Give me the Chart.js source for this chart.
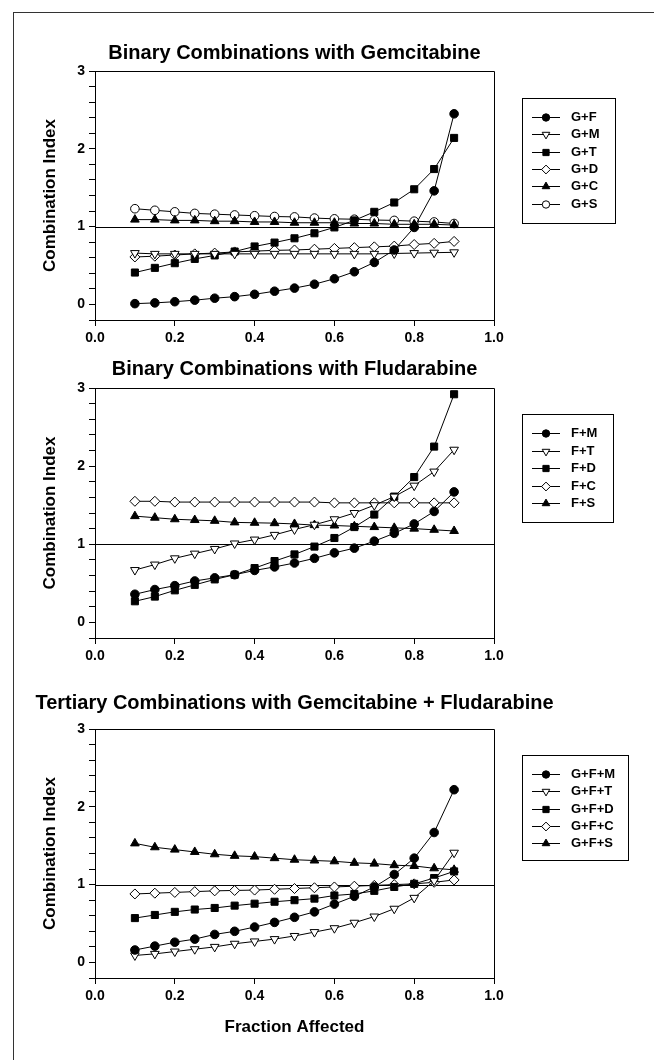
<!DOCTYPE html>
<html>
<head>
<meta charset="utf-8">
<title>Combination Index vs Fraction Affected</title>
<script src="https://cdn.jsdelivr.net/npm/chart.js"></script>
<style>
  html, body { margin: 0; padding: 0; background: #fff; }
  #page  { position: relative; width: 654px; height: 1060px; overflow: hidden; background: #fff; }
  #frame { position: absolute; left: 13px; top: 12px; width: 700px; height: 1100px;
           border-left: 1px solid #333; border-top: 1px solid #333; }
  canvas { position: absolute; left: 0; }
</style>
</head>
<body>
<div id="page">
  <div id="frame"></div>
  <canvas id="panelGem"  width="654" height="350" style="top:0px"></canvas>
  <canvas id="panelFlu"  width="654" height="325" style="top:345px"></canvas>
  <canvas id="panelTert" width="654" height="390" style="top:670px"></canvas>
</div>

<script>
/* =================================================================
   Combination index plots — three stacked panels
================================================================= */

// ── Data ──────────────────────────────────────

const fractionAffected = [0.10, 0.15, 0.20, 0.25, 0.30, 0.35, 0.40, 0.45, 0.50,
                          0.55, 0.60, 0.65, 0.70, 0.75, 0.80, 0.85, 0.90];
const xTickValues = [0.0, 0.2, 0.4, 0.6, 0.8, 1.0];
const yTickValues = [-0.2, 0, 0.2, 0.4, 0.6, 0.8, 1, 1.2, 1.4, 1.6, 1.8,
                     2, 2.2, 2.4, 2.6, 2.8, 3];

// Binary combinations with gemcitabine
const gemLabels = ['G+F', 'G+M', 'G+T', 'G+D', 'G+C', 'G+S'];
const ciGF = [0.01, 0.02, 0.035, 0.055, 0.08, 0.10, 0.13, 0.17, 0.21, 0.26, 0.33, 0.42, 0.54, 0.70, 0.99, 1.46, 2.45];
const ciGM = [0.66, 0.65, 0.65, 0.65, 0.65, 0.65, 0.65, 0.65, 0.65, 0.65, 0.65, 0.65, 0.65, 0.655, 0.66, 0.665, 0.67];
const ciGT = [0.41, 0.47, 0.53, 0.585, 0.63, 0.68, 0.745, 0.795, 0.85, 0.915, 0.99, 1.08, 1.19, 1.31, 1.48, 1.74, 2.14];
const ciGD = [0.61, 0.62, 0.635, 0.65, 0.66, 0.675, 0.685, 0.695, 0.70, 0.71, 0.72, 0.73, 0.74, 0.75, 0.77, 0.785, 0.81];
const ciGC = [1.09, 1.09, 1.08, 1.08, 1.07, 1.07, 1.06, 1.06, 1.05, 1.05, 1.05, 1.04, 1.04, 1.03, 1.03, 1.03, 1.02];
const ciGS = [1.23, 1.21, 1.19, 1.17, 1.16, 1.15, 1.14, 1.13, 1.125, 1.11, 1.10, 1.095, 1.085, 1.08, 1.07, 1.06, 1.04];

// Binary combinations with fludarabine
const fluLabels = ['F+M', 'F+T', 'F+D', 'F+C', 'F+S'];
const ciFM = [0.36, 0.42, 0.47, 0.53, 0.57, 0.61, 0.665, 0.71, 0.76, 0.82, 0.89, 0.95, 1.04, 1.14, 1.26, 1.42, 1.67];
const ciFT = [0.67, 0.74, 0.82, 0.88, 0.94, 1.01, 1.06, 1.12, 1.19, 1.25, 1.32, 1.40, 1.50, 1.61, 1.75, 1.93, 2.21];
const ciFD = [0.27, 0.33, 0.41, 0.48, 0.55, 0.61, 0.695, 0.785, 0.87, 0.97, 1.08, 1.22, 1.38, 1.61, 1.86, 2.25, 2.92];
const ciFC = [1.55, 1.55, 1.54, 1.54, 1.54, 1.54, 1.54, 1.54, 1.54, 1.54, 1.53, 1.53, 1.53, 1.53, 1.53, 1.53, 1.53];
const ciFS = [1.36, 1.34, 1.32, 1.31, 1.30, 1.28, 1.275, 1.27, 1.26, 1.245, 1.24, 1.23, 1.22, 1.21, 1.20, 1.185, 1.17];

// Tertiary combinations with gemcitabine + fludarabine
const tertLabels = ['G+F+M', 'G+F+T', 'G+F+D', 'G+F+C', 'G+F+S'];
const ciGFM = [0.16, 0.21, 0.26, 0.30, 0.36, 0.40, 0.455, 0.515, 0.58, 0.65, 0.75, 0.85, 0.97, 1.13, 1.34, 1.67, 2.22];
const ciGFT = [0.09, 0.11, 0.14, 0.17, 0.20, 0.24, 0.27, 0.30, 0.34, 0.39, 0.44, 0.51, 0.59, 0.69, 0.83, 1.05, 1.41];
const ciGFD = [0.57, 0.61, 0.65, 0.68, 0.70, 0.73, 0.755, 0.78, 0.80, 0.82, 0.86, 0.88, 0.92, 0.97, 1.01, 1.085, 1.17];
const ciGFC = [0.88, 0.89, 0.90, 0.91, 0.92, 0.925, 0.93, 0.94, 0.95, 0.96, 0.97, 0.98, 0.99, 1.00, 1.01, 1.03, 1.06];
const ciGFS = [1.53, 1.48, 1.45, 1.42, 1.39, 1.37, 1.36, 1.34, 1.32, 1.31, 1.30, 1.28, 1.27, 1.25, 1.24, 1.21, 1.19];

// ── Styles ────────────────────────────────────

const FONT = "Arial, 'Liberation Sans', Helvetica, sans-serif";
Chart.defaults.font.family = FONT;
Chart.defaults.color = '#000';

// marker order used in every panel
const markerStyles = [
  { style: 'circle',   rotation: 0,   radius: 4.3, fill: '#000' }, // filled circle
  { style: 'triangle', rotation: 180, radius: 5,   fill: '#fff' }, // open down triangle
  { style: 'rect',     rotation: 0,   radius: 5,   fill: '#000' }, // filled square
  { style: 'rectRot',  rotation: 0,   radius: 5,   fill: '#fff' }, // open diamond
  { style: 'triangle', rotation: 0,   radius: 5,   fill: '#000' }, // filled up triangle
  { style: 'circle',   rotation: 0,   radius: 4.3, fill: '#fff' }, // open circle
];

// ── Decoration plugin: CI = 1 line, box, title, legend ──

const panelDecor = {
  id: 'panelDecor',
  beforeDatasetsDraw(chart) {
    const { ctx, chartArea: a, scales: { y } } = chart;
    const py = Math.round(y.getPixelForValue(1)) + 0.5;
    ctx.save();
    ctx.strokeStyle = '#000';
    ctx.lineWidth = 1;
    ctx.beginPath(); ctx.moveTo(a.left, py); ctx.lineTo(a.right, py); ctx.stroke();
    ctx.restore();
  },
  afterDraw(chart, args, opts) {
    const { ctx, chartArea: a } = chart;
    ctx.save();
    ctx.strokeStyle = '#000';
    ctx.lineWidth = 1;
    // top and right edge of the plot box
    ctx.beginPath();
    ctx.moveTo(a.left, a.top + 0.5); ctx.lineTo(a.right + 0.5, a.top + 0.5);
    ctx.lineTo(a.right + 0.5, a.bottom);
    ctx.stroke();

    // title
    ctx.fillStyle = '#000';
    ctx.font = `bold 20px ${FONT}`;
    ctx.textAlign = 'center';
    ctx.textBaseline = 'middle';
    ctx.fillText(opts.title, (a.left + a.right) / 2, opts.titleY);

    // legend box
    const lg = opts.legend;
    ctx.strokeRect(lg.x + 0.5, lg.y + 0.5, lg.w, lg.h);
    ctx.font = `bold 13px ${FONT}`;
    ctx.textAlign = 'left';
    chart.data.datasets.forEach((ds, i) => {
      const ry = Math.round(lg.row0 + i * lg.gap) + 0.5;
      const m = markerStyles[i];
      ctx.beginPath(); ctx.moveTo(lg.x + 10, ry); ctx.lineTo(lg.x + 38, ry); ctx.stroke();
      ctx.fillStyle = m.fill;
      Chart.helpers.drawPoint(ctx, {
        pointStyle: m.style, rotation: m.rotation, radius: m.radius - 0.6, borderWidth: 1,
      }, lg.x + 24, ry);
      ctx.fillStyle = '#000';
      ctx.fillText(ds.label, lg.x + 49, ry);
    });
    ctx.restore();
  },
};

// ── Panel builder ─────────────────────────────

function buildPanel(canvasId, labels, series, cfg) {
  const datasets = series.map((vals, i) => {
    const m = markerStyles[i];
    return {
      label: labels[i],
      data: fractionAffected.map((x, k) => ({ x, y: vals[k] })),
      borderColor: '#000',
      borderWidth: 1,
      pointStyle: m.style,
      pointRotation: m.rotation,
      pointRadius: m.radius,
      pointHoverRadius: m.radius,
      pointBackgroundColor: m.fill,
      pointBorderColor: '#000',
      pointBorderWidth: 1,
      tension: 0,
      clip: false,
    };
  });

  const tickFont = { family: FONT, size: 14, weight: 'bold' };

  return new Chart(document.getElementById(canvasId), {
    type: 'line',
    data: { datasets },
    plugins: [panelDecor],
    options: {
      responsive: false,
      animation: false,
      devicePixelRatio: 1,
      events: [],
      layout: { padding: { left: 30, right: 160, top: cfg.top, bottom: 0 } },
      plugins: {
        legend: { display: false },
        tooltip: { enabled: false },
        panelDecor: { title: cfg.title, titleY: cfg.titleY, legend: cfg.legend },
      },
      scales: {
        x: {
          type: 'linear',
          min: 0, max: 1,
          afterBuildTicks: (s) => { s.ticks = xTickValues.map((v) => ({ value: v })); },
          afterFit: (s) => { s.height = cfg.xHeight; },
          ticks: { font: tickFont, color: '#000', padding: 4, maxRotation: 0, autoSkip: false,
                   callback: (v) => Number(v).toFixed(1) },
          grid: { drawOnChartArea: false, drawTicks: true, tickLength: 6, color: '#000' },
          border: { display: true, color: '#000', width: 1 },
          title: {
            display: !!cfg.xTitle,
            text: cfg.xTitle || '',
            font: { family: FONT, size: 17, weight: 'bold' },
            color: '#000',
            padding: { top: 0, bottom: 22 },
          },
        },
        y: {
          type: 'linear',
          min: -0.2, max: 3,
          afterBuildTicks: (s) => { s.ticks = yTickValues.map((v) => ({ value: v })); },
          afterFit: (s) => { s.width = 65; },
          ticks: { font: tickFont, color: '#000', padding: 4, autoSkip: false,
                   callback: (v) => (Math.abs(v - Math.round(v)) < 1e-6 ? String(Math.round(v)) : '') },
          grid: { drawOnChartArea: false, drawTicks: true, tickLength: 6, color: '#000' },
          border: { display: true, color: '#000', width: 1 },
          title: {
            display: true,
            text: 'Combination Index',
            font: { family: FONT, size: 17, weight: 'bold' },
            color: '#000',
            padding: { top: 10, bottom: 0 },
          },
        },
      },
    },
  });
}

// ── Init ───────────────────────────────────────

buildPanel('panelGem', gemLabels, [ciGF, ciGM, ciGT, ciGD, ciGC, ciGS], {
  title: 'Binary Combinations with Gemcitabine', titleY: 53,
  top: 71, xHeight: 30,
  legend: { x: 522, y: 98, w: 93, h: 125, row0: 117, gap: 17.3 },
});

buildPanel('panelFlu', fluLabels, [ciFM, ciFT, ciFD, ciFC, ciFS], {
  title: 'Binary Combinations with Fludarabine', titleY: 24,
  top: 43, xHeight: 32,
  legend: { x: 522, y: 69, w: 91, h: 108, row0: 88, gap: 17.5 },
});

buildPanel('panelTert', tertLabels, [ciGFM, ciGFT, ciGFD, ciGFC, ciGFS], {
  title: 'Tertiary Combinations with Gemcitabine + Fludarabine', titleY: 33,
  top: 59, xHeight: 82, xTitle: 'Fraction Affected',
  legend: { x: 522, y: 85, w: 106, h: 105, row0: 104, gap: 17.3 },
});
</script>
</body>
</html>
